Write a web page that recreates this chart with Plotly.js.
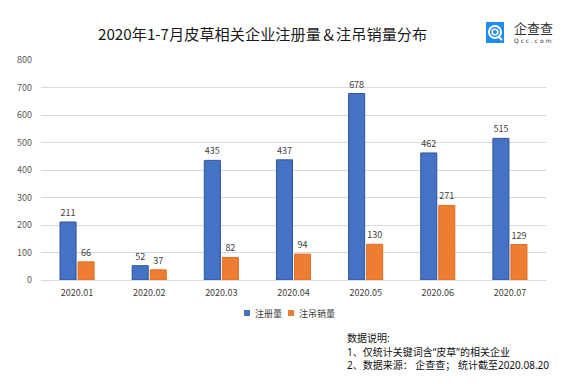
<!DOCTYPE html>
<html>
<head>
<meta charset="utf-8">
<script src="https://cdn.plot.ly/plotly-3.0.1.min.js"></script>
<style>html,body{margin:0;padding:0;background:#fff;}#chart{width:580px;height:384px;}</style>
</head>
<body>
<div id="chart"></div>
<script>
const categories = ["2020.01","2020.02","2020.03","2020.04","2020.05","2020.06","2020.07"];
const registered = [211, 52, 435, 437, 678, 462, 515];
const revoked = [66, 37, 82, 94, 130, 271, 129];
const seriesNames = ["注册量", "注吊销量"];
const titleText = "2020年1-7月皮草相关企业注册量＆注吊销量分布";
const notes = ["数据说明:", "1、仅统计关键词含\u201C皮草\u201D的相关企业", "2、数据来源： 企查查； 统计截至2020.08.20"];

const BLUE = "#4472C4", BLUE_LINE = "#2F5597";
const ORANGE = "#ED7D31", ORANGE_LINE = "#E06E22";
const FONT = "'Noto Sans CJK SC', 'Noto Sans', sans-serif";
const NOTE_FONT = "'Noto Sans', 'Noto Sans CJK SC', sans-serif";

// plot area in pixels
const L = 41, R = 546, T = 60, B = 280;
const px = x => (x - L) / (R - L);
const py = y => (B - y) / (B - T);

const traces = [
  {type: "bar", name: seriesNames[0], x: categories, y: registered,
   marker: {color: BLUE, line: {color: BLUE_LINE, width: 1}},
   text: registered.map(String), textposition: "outside", cliponaxis: false,
   textfont: {size: 9, color: "#404040", family: FONT}},
  {type: "bar", name: seriesNames[1], x: categories, y: revoked,
   marker: {color: ORANGE, line: {color: ORANGE_LINE, width: 1}},
   text: revoked.map(String), textposition: "outside", cliponaxis: false,
   textfont: {size: 9, color: "#404040", family: FONT}}
];

const shapes = [];
const annotations = [];

// title
annotations.push({xref: "paper", yref: "paper", x: px(262), y: py(33), xanchor: "center", yanchor: "middle",
  text: titleText, showarrow: false, font: {family: FONT, size: 15.2, color: "#1a1a1a"}});

// logo icon
const ix0 = 486, ix1 = 504, iy0 = 22, iy1 = 43;
shapes.push({type: "rect", xref: "paper", yref: "paper", x0: px(ix0), x1: px(ix1), y0: py(iy1), y1: py(iy0),
  fillcolor: "#1E8CF0", line: {width: 0}, layer: "above"});
const cx = (ix0 + ix1) / 2, cy = (iy0 + iy1) / 2 - 0.5;
shapes.push({type: "circle", xref: "paper", yref: "paper", x0: px(cx - 6), x1: px(cx + 6), y0: py(cy + 6), y1: py(cy - 6),
  line: {color: "#ffffff", width: 2}, layer: "above"});
shapes.push({type: "circle", xref: "paper", yref: "paper", x0: px(cx - 2.8), x1: px(cx + 2.8), y0: py(cy + 2.8), y1: py(cy - 2.8),
  line: {color: "#ffffff", width: 1.6}, layer: "above"});
shapes.push({type: "line", xref: "paper", yref: "paper", x0: px(cx + 3), x1: px(cx + 7), y0: py(cy + 4), y1: py(cy + 8),
  line: {color: "#ffffff", width: 2}, layer: "above"});
annotations.push({xref: "paper", yref: "paper", x: px(512), y: py(28), xanchor: "left", yanchor: "middle",
  text: "企查查", showarrow: false, font: {family: FONT, size: 13, color: "#333333"}});
annotations.push({xref: "paper", yref: "paper", x: px(512), y: py(40), xanchor: "left", yanchor: "middle",
  text: "Q c c . c o m", showarrow: false, font: {family: "DejaVu Sans, sans-serif", size: 6, color: "#333333"}});

// legend (custom)
const legendItems = [[244, seriesNames[0], BLUE], [288, seriesNames[1], ORANGE]];
legendItems.forEach(([lx, name, col]) => {
  shapes.push({type: "rect", xref: "paper", yref: "paper", x0: px(lx), x1: px(lx + 6), y0: py(316), y1: py(310),
    fillcolor: col, line: {width: 0}});
  annotations.push({xref: "paper", yref: "paper", x: px(lx + 9), y: py(313), xanchor: "left", yanchor: "middle",
    text: name, showarrow: false, font: {family: FONT, size: 9, color: "#404040"}});
});

// notes
notes.forEach((t, i) => {
  annotations.push({xref: "paper", yref: "paper", x: px(346), y: py(338 + i * 13.5), xanchor: "left", yanchor: "middle",
    text: t, showarrow: false, borderpad: 0, font: {family: NOTE_FONT, size: 10, color: "#111111"}});
});

const layout = {
  width: 580, height: 384,
  margin: {l: L, r: 580 - R, t: T, b: 384 - B, pad: 0},
  paper_bgcolor: "#ffffff", plot_bgcolor: "#ffffff",
  showlegend: false,
  barmode: "group", bargap: 0.5, bargroupgap: 0.11,
  font: {family: FONT},
  xaxis: {type: "category", tickfont: {size: 9, color: "#404040", family: FONT}, showgrid: false, showline: true,
    linecolor: "#d9d9d9", linewidth: 1, ticks: "", ticklabelstandoff: 4, fixedrange: true},
  yaxis: {range: [0, 800], dtick: 100, tick0: 0, showgrid: true, gridcolor: "#d9d9d9", gridwidth: 1,
    zeroline: true, zerolinecolor: "#d9d9d9", tickfont: {size: 9, color: "#595959", family: FONT},
    ticks: "", ticklabelstandoff: 8, fixedrange: true},
  shapes: shapes,
  annotations: annotations
};

Plotly.newPlot("chart", traces, layout, {staticPlot: true, displayModeBar: false});
</script>
</body>
</html>
